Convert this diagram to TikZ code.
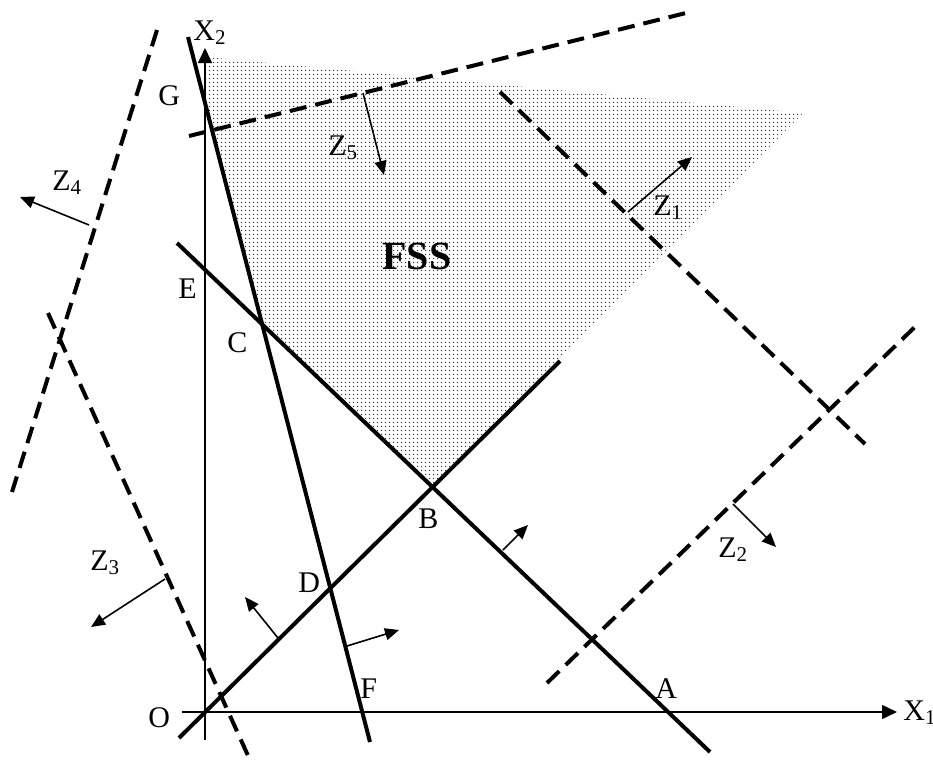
\documentclass[tikz,border=0pt]{standalone}
\usepackage{fontspec}
\setmainfont{Liberation Serif}
\usetikzlibrary{arrows.meta,patterns.meta}
\tikzdeclarepattern{
  name=fssdots,
  type=uncolored,
  bottom left={(0pt,0pt)},
  top right={(2pt,2pt)},
  tile size={(2pt,2pt)},
  code={
    \fill (1pt,1pt) circle (0.45pt);
  }
}
\tikzset{
  axisline/.style={line width=0.8pt,-{Triangle[length=7.5pt,width=7pt]}},
  consline/.style={line width=2pt},
  objline/.style={line width=2pt,dash pattern=on 8.5pt off 4.5pt},
  dirarrow/.style={line width=0.8pt,-{Triangle[length=7pt,width=6pt]}},
  lbl/.style={inner sep=0pt,anchor=base west,font=\fontsize{15}{18}\selectfont},
  fss/.style={inner sep=0pt,anchor=base west,font=\fontsize{20}{24}\selectfont\bfseries},
  region/.style={pattern=fssdots,pattern color=black!80}
}
\begin{document}
\begin{tikzpicture}[x=0.5pt,y=-0.5pt]
\useasboundingbox (0,0) rectangle (933,760);
% coordinates
\coordinate (s1) at (205,57);
\coordinate (s2) at (803,113);
\coordinate (pB) at (433,487);
\coordinate (pC) at (262,323);
\coordinate (pG) at (205,103);
\coordinate (G1) at (188,37);
\coordinate (F1) at (370,742);
\coordinate (E1) at (177,243);
\coordinate (A1) at (710,752);
\coordinate (O1) at (179,738);
\coordinate (B1) at (560,361);
\coordinate (ax2s) at (205,740);
\coordinate (ax2e) at (205,48);
\coordinate (ax1s) at (182,712);
\coordinate (ax1e) at (897,712);
\coordinate (z5a) at (189,136);
\coordinate (z5b) at (690,12);
\coordinate (z1a) at (500,92);
\coordinate (z1b) at (865,444);
\coordinate (z2a) at (547,683);
\coordinate (z2b) at (920,322);
\coordinate (z4a) at (157,30);
\coordinate (z4b) at (12,492);
\coordinate (z3a) at (48,313);
\coordinate (z3b) at (250,760);
\coordinate (z5s) at (363,93);
\coordinate (z5e) at (384,175);
\coordinate (z1s) at (628,212);
\coordinate (z1e) at (692,157);
\coordinate (z2s) at (733,504);
\coordinate (z2e) at (776,547);
\coordinate (z4s) at (89,225);
\coordinate (z4e) at (20,197);
\coordinate (z3s) at (165,579);
\coordinate (z3e) at (91,627);
\coordinate (bas) at (503,550);
\coordinate (bae) at (528,525);
\coordinate (obs) at (278,638);
\coordinate (obe) at (245,597);
\coordinate (dfs) at (347,646);
\coordinate (dfe) at (399,630);
% feasible region
\fill[region] (s1) -- (s2) -- (pB) -- (pC) -- (pG) -- cycle;
% axes
\draw[axisline] (ax2s) -- (ax2e);
\draw[axisline] (ax1s) -- (ax1e);
% constraint lines
\draw[consline] (G1) -- (F1);
\draw[consline] (E1) -- (A1);
\draw[consline] (O1) -- (B1);
% objective lines
\draw[objline] (z5a) -- (z5b);
\draw[objline] (z1a) -- (z1b);
\draw[objline] (z2a) -- (z2b);
\draw[objline] (z4a) -- (z4b);
\draw[objline] (z3a) -- (z3b);
% direction arrows
\draw[dirarrow] (z5s) -- (z5e);
\draw[dirarrow] (z1s) -- (z1e);
\draw[dirarrow] (z2s) -- (z2e);
\draw[dirarrow] (z4s) -- (z4e);
\draw[dirarrow] (z3s) -- (z3e);
\draw[dirarrow] (bas) -- (bae);
\draw[dirarrow] (obs) -- (obe);
\draw[dirarrow] (dfs) -- (dfe);
% labels
\node[lbl] (lx2) at (193,40) {X\textsubscript{2}};
\node[lbl] (lx1) at (903,720) {X\textsubscript{1}};
\node[lbl] (lz5) at (328,155) {Z\textsubscript{5}};
\node[lbl] (lz1) at (653,215) {Z\textsubscript{1}};
\node[lbl] (lz2) at (718,557) {Z\textsubscript{2}};
\node[lbl] (lz4) at (52,190) {Z\textsubscript{4}};
\node[lbl] (lz3) at (90,570) {Z\textsubscript{3}};
\node[lbl] (lg) at (158,105) {G};
\node[lbl] (le) at (178,298) {E};
\node[lbl] (lc) at (227,352) {C};
\node[lbl] (lb) at (418,528) {B};
\node[lbl] (ld) at (298,592) {D};
\node[lbl] (lf) at (360,698) {F};
\node[lbl] (la) at (655,698) {A};
\node[lbl] (lo) at (148,727) {O};
\node[fss] (lfss) at (382,269) {FSS};
\end{tikzpicture}
\end{document}
